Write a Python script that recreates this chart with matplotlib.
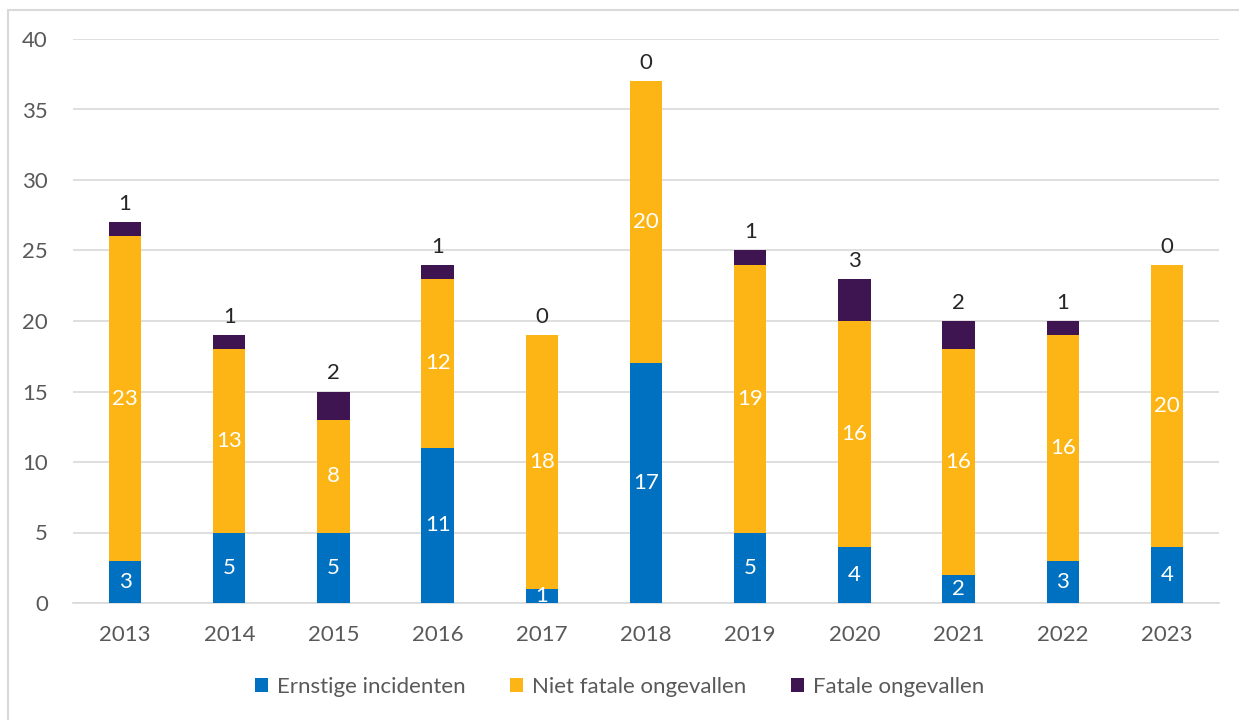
import matplotlib.pyplot as plt
import numpy as np

# Jaren en aantallen per categorie
jaren = ['2013', '2014', '2015', '2016', '2017', '2018', '2019', '2020', '2021', '2022', '2023']
ernstig = [3, 5, 5, 11, 1, 17, 5, 4, 2, 3, 4]
niet_fataal = [23, 13, 8, 12, 18, 20, 19, 16, 16, 16, 20]
fataal = [1, 1, 2, 1, 0, 0, 1, 3, 2, 1, 0]

blauw = '#0070C0'
geel = '#FDB515'
paars = '#3E1451'
tekst = '#595959'
fs = 16

plt.rcParams['font.family'] = ['Lato', 'DejaVu Sans']

fig = plt.figure(figsize=(12.39, 7.2), dpi=100)
ax = fig.add_axes([73 / 1239, 1 - 603 / 720, 1146 / 1239, 564 / 720])

x = np.arange(len(jaren))
breedte = 0.31
b1 = ax.bar(x, ernstig, breedte, color=blauw, label='Ernstige incidenten', zorder=3)
b2 = ax.bar(x, niet_fataal, breedte, bottom=ernstig, color=geel,
            label='Niet fatale ongevallen', zorder=3)
onder = np.array(ernstig) + np.array(niet_fataal)
b3 = ax.bar(x, fataal, breedte, bottom=onder, color=paars,
            label='Fatale ongevallen', zorder=3)

# waarden in de segmenten
for balk, w in zip(b1, ernstig):
    ax.text(balk.get_x() + balk.get_width() / 2, w / 2, str(w),
            ha='center', va='center', color='white', fontsize=fs, zorder=4)
for balk, w, o in zip(b2, niet_fataal, ernstig):
    ax.text(balk.get_x() + balk.get_width() / 2, o + w / 2, str(w),
            ha='center', va='center', color='white', fontsize=fs, zorder=4)
# fatale aantallen boven de balk
for balk, w, o in zip(b3, fataal, onder):
    ax.annotate(str(w), (balk.get_x() + balk.get_width() / 2, o + w),
                xytext=(0, 13), textcoords='offset points',
                ha='center', va='center', color='#262626', fontsize=fs)

ax.set_xlim(-0.5, len(jaren) - 0.5)
ax.set_ylim(0, 40)
ax.set_yticks(range(0, 41, 5))
ax.set_xticks(x)
ax.set_xticklabels(jaren)
ax.yaxis.grid(True, color='#D9D9D9', linewidth=1.2, zorder=0)
ax.tick_params(axis='both', length=0, labelsize=fs, labelcolor=tekst)
ax.tick_params(axis='x', pad=16)
ax.tick_params(axis='y', pad=18)
for s in ['top', 'right', 'left']:
    ax.spines[s].set_visible(False)
ax.spines['bottom'].set_color('#D9D9D9')
ax.spines['bottom'].set_linewidth(1.2)

fig.legend(handles=[b1, b2, b3], loc='center', bbox_to_anchor=(0.5, 1 - 687 / 720),
           ncol=3, frameon=False, fontsize=fs, labelcolor=tekst,
           handlelength=0.6, handleheight=0.6, handletextpad=0.4, columnspacing=2.0)

# kader rond de grafiek
fig.add_artist(plt.Line2D([8 / 1239, 8 / 1239], [0, 1 - 10 / 720], color='#D9D9D9', lw=1.5))
fig.add_artist(plt.Line2D([8 / 1239, 1], [1 - 10 / 720, 1 - 10 / 720], color='#D9D9D9', lw=1.5))

fig.savefig('out.png', dpi=100)
